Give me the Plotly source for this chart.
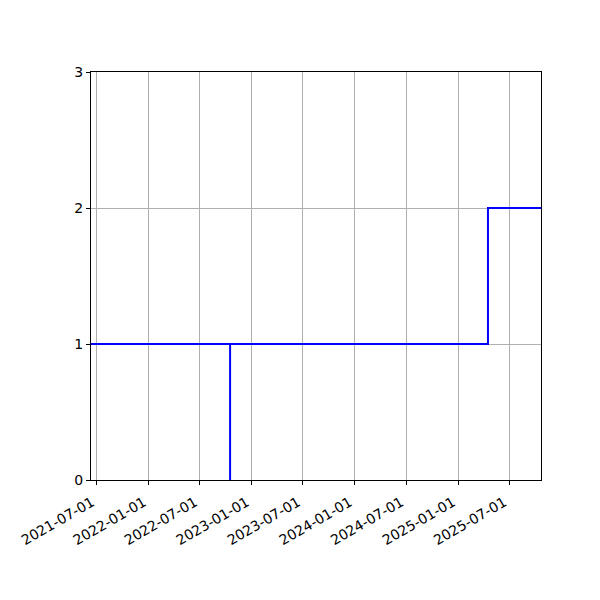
import plotly.graph_objects as go

dates = ["2021-06-10", "2022-10-16", "2022-10-16", "2025-04-17", "2025-10-22"]
values = [1, 0, 1, 2, 2]
x_range = ["2021-06-10", "2025-10-22"]
tick_dates = ["2021-07-01", "2022-01-01", "2022-07-01", "2023-01-01", "2023-07-01",
              "2024-01-01", "2024-07-01", "2025-01-01", "2025-07-01"]
y_ticks = [0, 1, 2, 3]

fig = go.Figure()
fig.add_trace(go.Scatter(x=dates, y=values, mode="lines", line_shape="hv",
                         line=dict(color="blue", width=2), showlegend=False))

axis_common = dict(showline=True, linecolor="black", linewidth=1, mirror=True,
                   ticks="outside", ticklen=4, tickcolor="black", tickwidth=1,
                   showgrid=True, gridcolor="#b0b0b0", gridwidth=1, zeroline=False,
                   automargin=False,
                   tickfont=dict(family="DejaVu Sans", size=14, color="black"))

fig.update_layout(
    width=600, height=600,
    margin=dict(l=83, r=67, t=64, b=128),
    paper_bgcolor="white", plot_bgcolor="white",
    xaxis=dict(range=x_range, tickvals=tick_dates, ticktext=tick_dates,
               tickangle=-30, ticklabelshift=-5, ticklabelstandoff=4, **axis_common),
    yaxis=dict(range=[0, 3], tickvals=y_ticks, ticktext=[str(v) for v in y_ticks],
               **axis_common),
)

fig.write_html("out.html")
